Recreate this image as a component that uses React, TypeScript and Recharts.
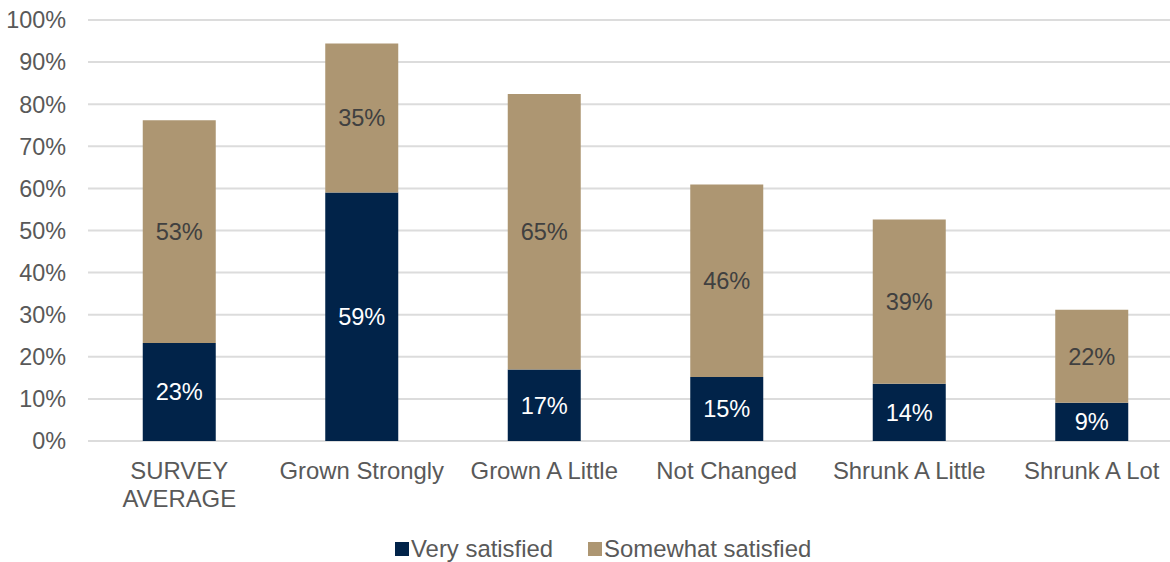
import React from 'react';
import { BarChart, Bar, XAxis, YAxis, CartesianGrid, Legend, LabelList } from 'recharts';

const categories = ['SURVEY AVERAGE', 'Grown Strongly', 'Grown A Little', 'Not Changed', 'Shrunk A Little', 'Shrunk A Lot'];
const verySatisfied = [23.3, 59.0, 17.0, 15.2, 13.6, 9.1];
const somewhatSatisfied = [52.9, 35.4, 65.4, 45.7, 39.0, 22.1];
const yTicks = [0, 10, 20, 30, 40, 50, 60, 70, 80, 90, 100];

const seriesNames = ['Very satisfied', 'Somewhat satisfied'];
const NAVY = '#012349';
const TAN = '#AD9672';
const FONT = '"Liberation Sans", Arial, sans-serif';
const FS_Y = 23.4;
const FS_X = 23.9;
const FS_L = 23.9;
const FS_D = 23.6;
const GRAY = '#595959';

const data = categories.map((c, i) => ({
  name: c,
  very: verySatisfied[i],
  somewhat: somewhatSatisfied[i],
}));

const fmt = (v: any) => `${Math.round(Number(v))}%`;

let ctx: CanvasRenderingContext2D | null = null;
const measure = (s: string) => {
  if (!ctx) {
    const c = document.createElement('canvas');
    ctx = c.getContext('2d');
  }
  if (!ctx) return s.length * FS_X * 0.55;
  ctx.font = `${FS_X}px "Liberation Sans", Arial, sans-serif`;
  return ctx.measureText(s).width;
};

const wrap = (s: string, maxW: number) => {
  const words = s.split(' ');
  const lines: string[] = [];
  let cur = '';
  words.forEach((w) => {
    const t = cur ? cur + ' ' + w : w;
    if (cur && measure(t) > maxW) {
      lines.push(cur);
      cur = w;
    } else cur = t;
  });
  if (cur) lines.push(cur);
  return lines;
};

const XTick = (props: any) => {
  const { x, y, payload } = props;
  const lines = wrap(String(payload.value), 178);
  return (
    <text
      x={x}
      y={y}
      textAnchor="middle"
      fill={GRAY}
      fontFamily={FONT}
      fontSize={FS_X}
    >
      {lines.map((l, i) => (
        <tspan key={i} x={x} dy={i === 0 ? '0.71em' : '1.16em'}>
          {l}
        </tspan>
      ))}
    </text>
  );
};

const LegendContent = () => {
  const items = [
    { name: seriesNames[0], color: NAVY },
    { name: seriesNames[1], color: TAN },
  ];
  return (
    <div
      style={{
        height: 40,
        boxSizing: 'border-box',
        paddingTop: 14,
        paddingLeft: 395,
        display: 'flex',
        alignItems: 'center',
        fontFamily: FONT,
        fontSize: FS_L,
        color: GRAY,
      }}
    >
      {items.map((it, i) => (
        <div key={it.name} style={{ display: 'flex', alignItems: 'center', marginRight: i === 0 ? 35 : 0, height: 26 }}>
          <span style={{ display: 'inline-block', width: 14, height: 14, background: it.color, marginRight: 2 }} />
          <span style={{ lineHeight: '26px', whiteSpace: 'nowrap' }}>{it.name}</span>
        </div>
      ))}
    </div>
  );
};

export default function App() {
  return (
    <div style={{ position: 'absolute', left: 0, top: 0, width: 1170, height: 562, overflow: 'hidden', background: '#fff' }}>
      <BarChart
        width={1190}
        height={562}
        data={data}
        margin={{ top: 20, right: 7, left: 0, bottom: 0 }}
        barCategoryGap="30%"
      >
        <CartesianGrid vertical={false} stroke="#DCDCDC" strokeWidth={2} />
        <XAxis
          dataKey="name"
          axisLine={false}
          tickLine={false}
          tickSize={0}
          tickMargin={21}
          height={81}
          interval={0}
          tick={<XTick />}
        />
        <YAxis
          domain={[0, 100]}
          ticks={yTicks}
          tickFormatter={(v: number) => `${v}%`}
          axisLine={false}
          tickLine={false}
          tickSize={0}
          tickMargin={22}
          width={88}
          tick={{ fill: GRAY, fontSize: FS_Y, fontFamily: FONT }}
        />
        <Legend verticalAlign="bottom" content={<LegendContent />} />
        <Bar dataKey="very" name={seriesNames[0]} stackId="a" fill={NAVY} isAnimationActive={false}>
          <LabelList dataKey="very" position="center" formatter={fmt} fill="#FFFFFF" style={{ fontFamily: FONT, fontSize: FS_D }} />
        </Bar>
        <Bar dataKey="somewhat" name={seriesNames[1]} stackId="a" fill={TAN} isAnimationActive={false}>
          <LabelList dataKey="somewhat" position="center" formatter={fmt} fill="#404040" style={{ fontFamily: FONT, fontSize: FS_D }} />
        </Bar>
      </BarChart>
    </div>
  );
}
